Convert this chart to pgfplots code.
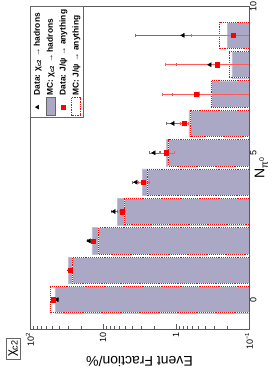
\documentclass[border=0pt]{standalone}
\usepackage{pgfplots}
\pgfplotsset{compat=1.18}
\usepackage{pgfplotstable}
\usepackage{fontspec}
\setmainfont{Liberation Sans}
\definecolor{mcgray}{RGB}{170,168,196}
\definecolor{mcedge}{RGB}{192,190,212}
\pgfplotstableread{
n  mch   mcj   dch  dchp dchm  dj    djp   djm
0  45.5  53.0  42.6 2.0  2.0   48.0  1.5   1.5
1  30.1  25.8  28.5 1.5  1.5   28.3  1.0   1.0
2  14.2  11.4  15.5 1.0  1.0   13.7  0.7   0.7
3  6.43  5.15  7.06 0.6  0.6   5.5   0.5   0.5
4  2.92  2.49  3.53 0.5  0.5   2.83  0.5   0.5
5  1.37  1.25  2.0  0.35 0.35  1.37  0.35  0.3
6  0.664 0.624 1.10 0.27 0.27  0.776 0.1   0.1
7  0.332 0.332 0.50 0.63 0.48  0.53  1.03  0.51
8  0.171 0.187 0.342 0.66 0.32 0.274 1.146 0.254
9  0.20  0.25  0.80 2.85 0.78  0.166 0.458 0.146
}\datatab
\begin{document}
\begin{tikzpicture}[rotate=90, transform shape]
\begin{axis}[
  width=323pt, height=219pt, scale only axis,
  xmin=-1, xmax=10, ymode=log, ymin=0.1, ymax=100, log origin=infty,
  xtick={0,5,10}, xticklabels={0,5,10},
  ytick={0.1,1,10,100},
  yticklabels={10\textsuperscript{−1},1,10,10\textsuperscript{2}},
  minor ytick={0.2,0.3,0.4,0.5,0.6,0.7,0.8,0.9,2,3,4,5,6,7,8,9,20,30,40,50,60,70,80,90},
  minor xtick={1,2,3,4,6,7,8,9},
  tick align=inside, tick pos=left,
  major tick length=5pt, minor tick length=3pt,
  axis line style={black!65, line width=0.6pt},
  every tick/.style={black!65, line width=0.5pt},
  ticklabel style={font=\fontsize{9}{10}\selectfont},
  xticklabel style={inner sep=1pt},
  xlabel={N\textsubscript{π\textsuperscript{0}}},
  ylabel={Event Fraction/\%},
  label style={font=\fontsize{14}{16}\selectfont},
  xlabel style={inner sep=0pt},
  xlabel shift=-3pt,
  legend style={at={(1,1)}, anchor=north east, draw=black!60, fill=white,
    font=\bfseries\fontsize{8.4}{9.8}\selectfont, inner sep=1.6pt, row sep=1.3pt,
    legend cell align=left},
]
\addlegendimage{only marks, mark=triangle*, mark size=2.2pt, black}
\addlegendentry{Data: χ\textsubscript{c2} → hadrons}
\addlegendimage{legend image code/.code={\draw[fill=mcgray, draw=black!60] (0pt,-4.5pt) rectangle (18pt,4.5pt);}}
\addlegendentry{MC: χ\textsubscript{c2} → hadrons}
\addlegendimage{only marks, mark=square*, mark size=2pt, red}
\addlegendentry{Data: J/ψ → anything}
\addlegendimage{legend image code/.code={\draw[red, densely dotted, line width=0.7pt] (0pt,-4.5pt) rectangle (18pt,4.5pt);}}
\addlegendentry{MC: J/ψ → anything}

\addplot[forget plot, ybar, bar width=0.9, bar shift=0pt, fill=mcgray, draw=mcedge, line width=0.5pt]
  table[x=n, y=mch] {\datatab};
\addplot[forget plot, ybar, bar width=0.9, bar shift=0pt, fill=none, draw=red, densely dotted, line width=0.9pt,
  preaction={draw=white, solid, line width=0.9pt}]
  table[x=n, y=mcj] {\datatab};
\addplot[forget plot, only marks, mark=triangle*, mark size=2.4pt, black,
  error bars/.cd, y dir=both, y explicit, error bar style={black!55, line width=0.6pt}, error mark options={rotate=90, black!55, mark size=1.5pt}]
  table[x=n, y=dch, y error plus=dchp, y error minus=dchm] {\datatab};
\addplot[forget plot, only marks, mark=square*, mark size=2.2pt, red,
  error bars/.cd, y dir=both, y explicit, error bar style={red!65, line width=0.6pt}, error mark options={rotate=90, red!65, mark size=1.5pt}]
  table[x=n, y=dj, y error plus=djp, y error minus=djm] {\datatab};
\end{axis}
\node[draw=black!60, anchor=south east, inner sep=1.8pt, font=\fontsize{13}{15}\selectfont]
  at ([shift={(-9pt,10pt)}]current axis.north west) {χ\textsubscript{c2}};
\pgfresetboundingbox
\path ([shift={(-41pt,-28pt)}]current axis.south west) rectangle ([shift={(6pt,30pt)}]current axis.north east);
\end{tikzpicture}
\end{document}
